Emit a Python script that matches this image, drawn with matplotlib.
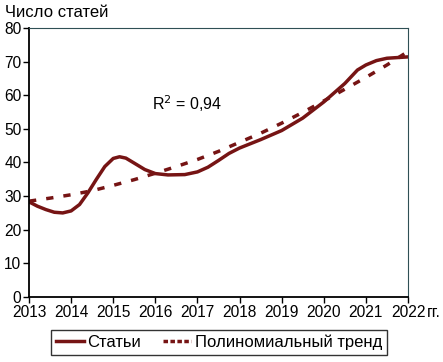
import numpy as np
import matplotlib
matplotlib.use('Agg')
import matplotlib.pyplot as plt
from matplotlib.lines import Line2D

plt.rcParams['font.family'] = ['Liberation Sans', 'DejaVu Sans']

# articles curve
years = [2013.0, 2013.2, 2013.4, 2013.6, 2013.8, 2014.0, 2014.2, 2014.4, 2014.6,
         2014.8, 2015.0, 2015.15, 2015.3, 2015.5, 2015.75, 2016.0, 2016.3, 2016.7,
         2017.0, 2017.25, 2017.5, 2017.75, 2018.0, 2018.5, 2019.0, 2019.5,
         2020.0, 2020.5, 2020.8, 2021.0, 2021.25, 2021.5, 2022.0]
articles = [28.3, 27.0, 26.0, 25.2, 25.0, 25.6, 27.5, 31.0, 35.0,
            38.8, 41.2, 41.7, 41.3, 39.8, 37.9, 36.7, 36.3, 36.4,
            37.2, 38.6, 40.6, 42.7, 44.3, 46.8, 49.5, 53.2,
            58.0, 63.5, 67.5, 69.0, 70.3, 71.0, 71.4]

# polynomial trend
trend_years = [2013.0, 2013.5, 2014.0, 2014.5, 2015.0, 2015.5, 2016.0, 2016.5, 2017.0,
               2017.5, 2018.0, 2018.5, 2019.0, 2019.5, 2020.0, 2020.5, 2021.0,
               2021.5, 2022.0]
trend = [28.5, 29.4, 30.4, 31.6, 33.2, 34.9, 36.8, 38.8, 40.9,
         43.3, 46.0, 48.7, 51.7, 54.9, 58.3, 61.8, 65.3,
         69.0, 73.0]

xticks = list(range(2013, 2023))
yticks = list(range(0, 90, 10))
color = '#761414'

fig = plt.figure(figsize=(4.43, 3.62), dpi=100)
ax = fig.add_axes([0.0655, 0.1796, 0.8555, 0.7431])

ax.plot(years, articles, color=color, lw=2.5, solid_joinstyle='round')
ax.plot(trend_years, trend, color=color, lw=2.5, dashes=(2.1, 2.9))

ax.set_xlim(2013, 2022)
ax.set_ylim(0, 80)
ax.set_xticks(xticks)
ax.set_yticks(yticks)
ax.tick_params(labelsize=11.2, length=4, width=1, pad=1.5, color='black')
for s in ['left', 'bottom']:
    ax.spines[s].set_linewidth(1.3)
    ax.spines[s].set_color('black')
for s in ['top', 'right']:
    ax.spines[s].set_linewidth(0.8)
    ax.spines[s].set_color('#2f4f55')

ax.text(2016.75, 57.4, 'R$^2$ = 0,94', fontsize=11.5, ha='center', va='center')
fig.text(0.012, 0.985, 'Число статей', fontsize=12, ha='left', va='top')
fig.text(0.963, 0.138, 'гг.', fontsize=11.2, ha='left', va='center')

handles = [Line2D([], [], color=color, lw=2.5),
           Line2D([], [], color=color, lw=2.5, dashes=(1.3, 0.7))]
leg = fig.legend(handles, ['Статьи', 'Полиномиальный тренд'], loc='center',
                 bbox_to_anchor=(0.494, 0.054), ncol=2, fontsize=12,
                 frameon=True, fancybox=False, handlelength=1.7,
                 handletextpad=0.2, columnspacing=1.3, borderpad=0.3)
leg.get_frame().set_edgecolor('black')
leg.get_frame().set_linewidth(1.0)

fig.savefig('out.png', dpi=100)
